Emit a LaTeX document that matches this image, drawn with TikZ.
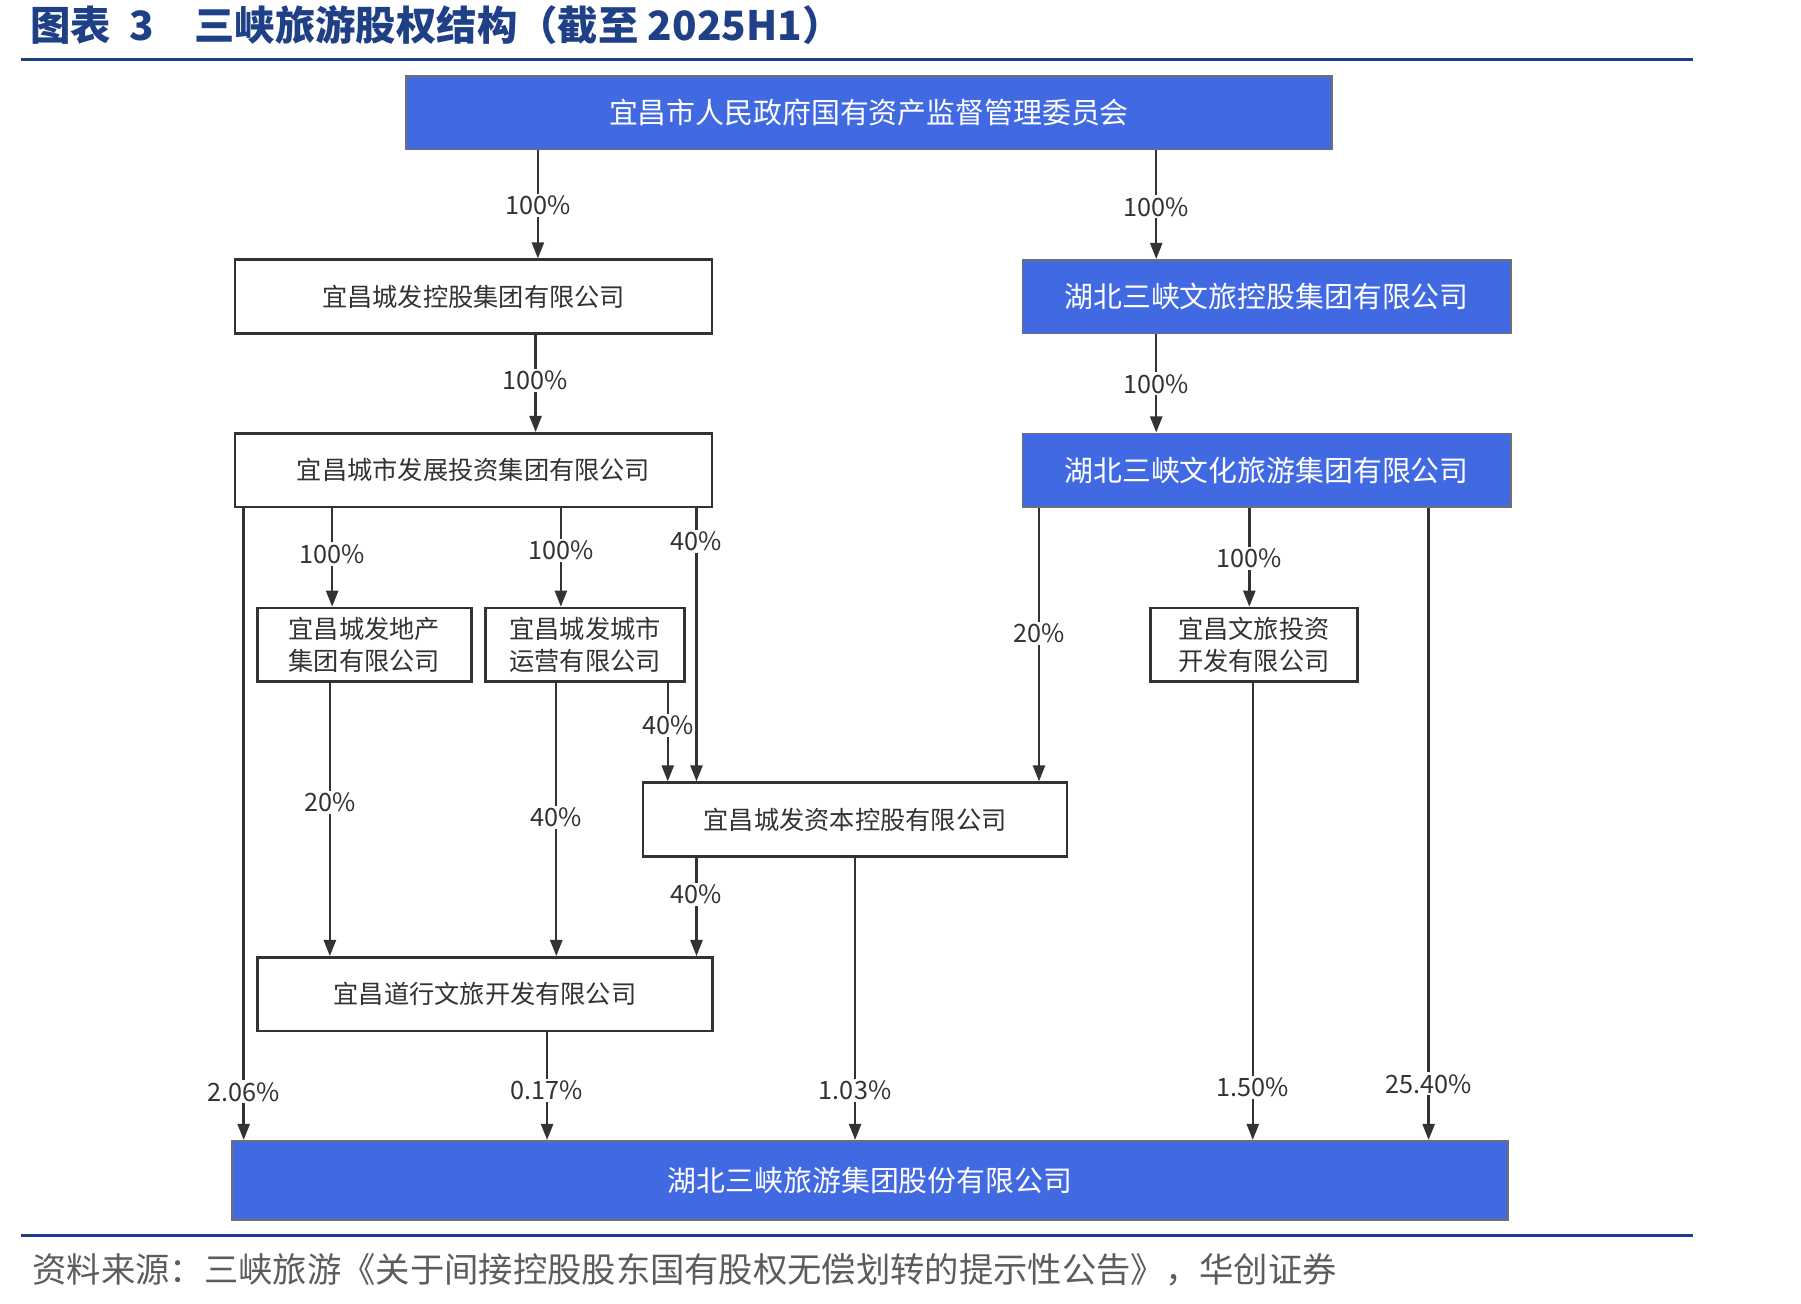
\documentclass[tikz,border=0pt]{standalone}
\usepackage{fontspec}
\setmainfont{Noto Sans CJK SC}
\newfontfamily\cjk{Noto Sans CJK SC}
\usetikzlibrary{arrows.meta}
\definecolor{hcblue}{HTML}{1F3F86}
\definecolor{boxblue}{HTML}{4169E1}
\definecolor{ln}{HTML}{333333}
\tikzset{
  x=0.02cm,y=-0.02cm,
  wbox/.style={draw=ln,line width=1.3pt,fill=white,inner sep=0pt,align=center,font=\fontsize{12.5}{16}\selectfont,text=ln},
  bbox/.style={draw=ln!70,line width=0.8pt,fill=boxblue,inner sep=0pt,align=center,font=\fontsize{14.3}{17}\selectfont,text=white},
  arr/.style={draw=ln,line width=1.2pt,-{Triangle[length=8pt,width=6pt]}},
  lbl/.style={fill=white,inner sep=1pt,font=\fontsize{12.5}{14}\selectfont,text=ln}
}
\begin{document}
\begin{tikzpicture}
\useasboundingbox (0,0) rectangle (1567,1134);
\node[anchor=west,text=hcblue,font=\fontsize{20}{24}\selectfont\bfseries] (title) at (20,22) {图表\ \ 3\quad 三峡旅游股权结构（截至 2025H1）};
\draw[hcblue,line width=1.6pt] (18,52) -- (1473,52);
\draw[hcblue,line width=1.6pt] (18,1075) -- (1473,1075);
\node[anchor=west,text=ln!80,font=\fontsize{17}{20}\selectfont] (src) at (22,1105) {资料来源：三峡旅游《关于间接控股股东国有股权无偿划转的提示性公告》，华创证券};

\node[bbox,minimum width=806*0.02cm,minimum height=64*0.02cm] (gov) at (756,98) {宜昌市人民政府国有资产监督管理委员会};
\node[wbox,minimum width=415*0.02cm,minimum height=64*0.02cm] (cf) at (412,258) {宜昌城发控股集团有限公司};
\node[bbox,minimum width=425*0.02cm,minimum height=64*0.02cm] (hbsx) at (1102,258) {湖北三峡文旅控股集团有限公司};
\node[wbox,minimum width=415*0.02cm,minimum height=64*0.02cm] (csfz) at (412,409) {宜昌城市发展投资集团有限公司};
\node[bbox,minimum width=425*0.02cm,minimum height=64*0.02cm] (hbwh) at (1102,409) {湖北三峡文化旅游集团有限公司};
\node[wbox,minimum width=186*0.02cm,minimum height=64*0.02cm] (dc) at (317,561) {宜昌城发地产\\集团有限公司};
\node[wbox,minimum width=173*0.02cm,minimum height=64*0.02cm] (cs) at (509,561) {宜昌城发城市\\运营有限公司};
\node[wbox,minimum width=180*0.02cm,minimum height=64*0.02cm] (wl) at (1091,561) {宜昌文旅投资\\开发有限公司};
\node[wbox,minimum width=369*0.02cm,minimum height=64*0.02cm] (zb) at (744,713) {宜昌城发资本控股有限公司};
\node[wbox,minimum width=396*0.02cm,minimum height=64*0.02cm] (dx) at (422,865) {宜昌道行文旅开发有限公司};
\node[bbox,minimum width=1110*0.02cm,minimum height=69*0.02cm] (fin) at (757,1027) {湖北三峡旅游集团股份有限公司};

\draw[arr] (gov.south -| 468,0) -- (cf.north -| 468,0);
\node[lbl] (l1) at (468,179) {100\%};
\draw[arr] (gov.south -| 1006,0) -- (hbsx.north -| 1006,0);
\node[lbl] (l2) at (1006,180) {100\%};
\draw[arr] (cf.south -| 466,0) -- (csfz.north -| 466,0);
\node[lbl] (l3) at (466,331) {100\%};
\draw[arr] (hbsx.south -| 1006,0) -- (hbwh.north -| 1006,0);
\node[lbl] (l4) at (1006,334) {100\%};
\draw[arr] (csfz.south -| 289,0) -- (dc.north -| 289,0);
\node[lbl] (l5) at (289,482) {100\%};
\draw[arr] (csfz.south -| 488,0) -- (cs.north -| 488,0);
\node[lbl] (l6) at (488,479) {100\%};
\draw[arr] (csfz.south -| 606,0) -- (zb.north -| 606,0);
\node[lbl] (l7) at (606,471) {40\%};
\draw[arr] (cs.south -| 581,0) -- (zb.north -| 581,0);
\node[lbl] (l8) at (581,631) {40\%};
\draw[arr] (hbwh.south -| 904,0) -- (zb.north -| 904,0);
\node[lbl] (l9) at (904,551) {20\%};
\draw[arr] (hbwh.south -| 1087,0) -- (wl.north -| 1087,0);
\node[lbl] (l10) at (1087,486) {100\%};
\draw[arr] (dc.south -| 287,0) -- (dx.north -| 287,0);
\node[lbl] (l11) at (287,698) {20\%};
\draw[arr] (cs.south -| 484,0) -- (dx.north -| 484,0);
\node[lbl] (l12) at (484,711) {40\%};
\draw[arr] (zb.south -| 606,0) -- (dx.north -| 606,0);
\node[lbl] (l13) at (606,778) {40\%};
\draw[arr] (csfz.south -| 212,0) -- (fin.north -| 212,0);
\node[lbl] (l14) at (212,950) {2.06\%};
\draw[arr] (dx.south -| 476,0) -- (fin.north -| 476,0);
\node[lbl] (l15) at (476,949) {0.17\%};
\draw[arr] (zb.south -| 744,0) -- (fin.north -| 744,0);
\node[lbl] (l16) at (744,949) {1.03\%};
\draw[arr] (wl.south -| 1090,0) -- (fin.north -| 1090,0);
\node[lbl] (l17) at (1090,946) {1.50\%};
\draw[arr] (hbwh.south -| 1243,0) -- (fin.north -| 1243,0);
\node[lbl] (l18) at (1243,943) {25.40\%};
\end{tikzpicture}
\end{document}
